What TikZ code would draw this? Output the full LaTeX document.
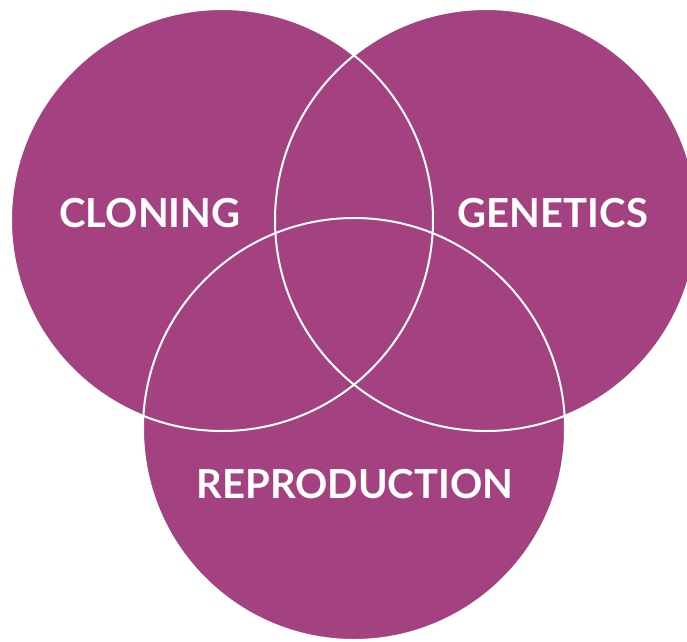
\documentclass[tikz,border=0pt]{standalone}
\usepackage{fontspec}
\setmainfont{Lato}
\usetikzlibrary{positioning}
\definecolor{vennpurple}{RGB}{164,65,128}

\begin{document}
\begin{tikzpicture}[x=1pt, y=-1pt]
      \tikzset{
        setfill/.style={circle, minimum size=422pt, inner sep=0pt, fill=vennpurple},
        setline/.style={circle, minimum size=422pt, inner sep=0pt, draw=white, line width=2pt},
        setlabel/.style={text=white, font=\fontsize{40}{44}\selectfont\bfseries}
      }
      \useasboundingbox (0, 0) rectangle (687, 641);
      % the three sets
      \node[setfill] (cloning) at (222, 220) {};
      \node[setfill] (genetics) at (486, 220) {};
      \node[setfill] (reproduction) at (354, 429) {};
      % white rims over the overlaps
      \node[setline] at (cloning.center) {};
      \node[setline] at (genetics.center) {};
      \node[setline] at (reproduction.center) {};
      % labels
      \node[setlabel] (cloninglabel) at (150, 213) {CLONING};
      \node[setlabel] (geneticslabel) at (553, 213) {GENETICS};
      \node[setlabel] (reproductionlabel) at (355, 484) {REPRODUCTION};
  \end{tikzpicture}
\end{document}
